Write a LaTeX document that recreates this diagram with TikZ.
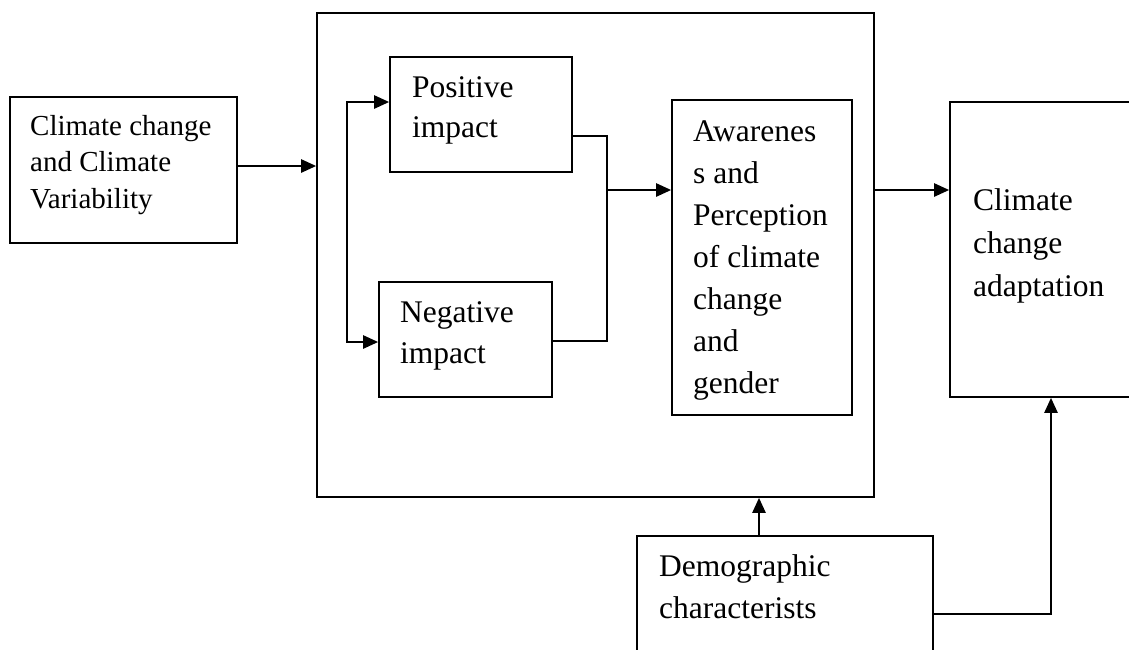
\documentclass[tikz,border=0pt]{standalone}
\usepackage{fontspec}
\setmainfont{Liberation Serif}
\usetikzlibrary{arrows.meta,calc}
\begin{document}
\begin{tikzpicture}[x=1pt,y=-1pt,
  box/.style={draw,line width=1.6pt,inner sep=0pt,rectangle},
  conn/.style={line width=1.6pt},
  arr/.style={line width=2.4pt,-{Triangle[length=15pt,width=13pt]}},
  txt/.style={anchor=base west,align=left,inner sep=0pt,font=\fontsize{31.5}{42}\selectfont},
  txtsmall/.style={txt,font=\fontsize{29}{36.5}\selectfont}]
\useasboundingbox (0,0) rectangle (1129,649);
% boxes
\node[box,minimum width=227pt,minimum height=146pt] (left) at (123.5,170) {};
\node[box,minimum width=557pt,minimum height=484pt] (big) at (595.5,255) {};
\node[box,minimum width=182pt,minimum height=115pt] (pos) at (481,114.5) {};
\node[box,minimum width=173pt,minimum height=115pt] (neg) at (465.5,339.5) {};
\node[box,minimum width=180pt,minimum height=315pt] (aware) at (762,257.5) {};
\node[box,minimum width=202pt,minimum height=295pt] (adapt) at (1051,249.5) {};
\node[box,minimum width=296pt,minimum height=124pt] (demog) at (785,598) {};
% texts (anchored at the baseline of the last line)
\node[txtsmall] (tleft) at (30,208) {Climate change\\and Climate\\Variability};
\node[txt,font=\fontsize{31.5}{40}\selectfont] (tpos) at (412,137) {Positive\\impact};
\node[txt,font=\fontsize{31.5}{41}\selectfont] (tneg) at (400,363) {Negative\\impact};
\node[txt] (taware) at (693,393) {Awarenes\\s and\\Perception\\of climate\\change\\and\\gender};
\node[txt,font=\fontsize{31.5}{43}\selectfont] (tadapt) at (973,296) {Climate\\change\\adaptation};
\node[txt] (tdemog) at (659,618) {Demographic\\characterists};
% connectors
\draw[arr] ([yshift=4pt]left.east) -- ([yshift=4pt]left.east -| big.west);
\coordinate (vt) at (347,102);
\coordinate (vb) at (347,342);
\draw[line width=2.4pt,{Triangle[length=15pt,width=13pt]}-{Triangle[length=15pt,width=13pt]}]
  (vt -| pos.west) -- (vt) -- (vb) -- (vb -| neg.west);
\coordinate (jx) at (607,190);
\draw[conn] ([yshift=-21.5pt]pos.east) -| (jx) |- ([yshift=-1.5pt]neg.east);
\draw[arr] (jx) -- (jx -| aware.west);
\draw[arr] (jx -| big.east) -- (jx -| adapt.west);
\draw[arr] ([xshift=-26pt]demog.north) -- ([xshift=-26pt]demog.north |- big.south);
\draw[arr] ([yshift=-16pt]demog.east) -| (adapt.south);
\end{tikzpicture}
\end{document}
